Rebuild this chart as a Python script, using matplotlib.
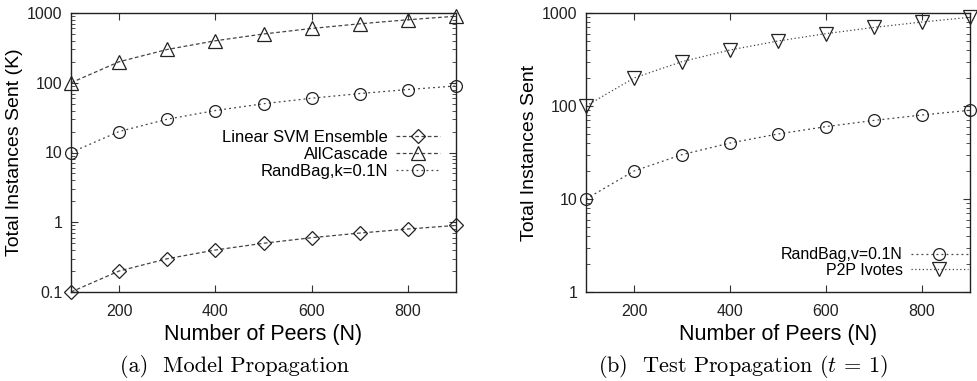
import numpy as np
import matplotlib
import matplotlib.pyplot as plt
from matplotlib.ticker import LogLocator, NullFormatter
matplotlib.use('Agg')

plt.rcParams['font.family'] = ['Liberation Sans', 'DejaVu Sans']
plt.rcParams['mathtext.fontset'] = 'cm'

peers = [100, 200, 300, 400, 500, 600, 700, 800, 900]

# (a) model propagation, in thousands
svm_ensemble = [0.1, 0.2, 0.3, 0.4, 0.5, 0.6, 0.7, 0.8, 0.9]
all_cascade = [100, 200, 300, 400, 500, 600, 700, 800, 900]
randbag_k = [10, 20, 30, 40, 50, 60, 70, 80, 90]

# (b) test propagation
randbag_v = [10, 20, 30, 40, 50, 60, 70, 80, 90]
p2p_ivotes = [100, 200, 300, 400, 500, 600, 700, 800, 900]

xticks = [200, 400, 600, 800]


def style_axes(ax, ylim, yticks):
    ax.set_yscale('log')
    ax.set_xlim(100, 900)
    ax.set_ylim(*ylim)
    ax.set_xticks(xticks)
    ax.set_yticks(yticks)
    ax.set_yticklabels([('%g' % v) for v in yticks])
    ax.yaxis.set_minor_locator(LogLocator(base=10, subs=np.arange(2, 10)))
    ax.yaxis.set_minor_formatter(NullFormatter())
    ax.tick_params(which='both', direction='in', top=True, right=True,
                   labelsize=11.5, color='#333333', labelcolor='#222222')
    ax.tick_params(axis='x', pad=9)
    ax.tick_params(axis='y', pad=6)
    ax.tick_params(which='major', length=5)
    ax.tick_params(which='minor', length=3)
    for s in ax.spines.values():
        s.set_linewidth(1.0)
        s.set_color('#222222')
    ax.set_xlabel('Number of Peers (N)', fontsize=15.5, labelpad=3)


fig = plt.figure(figsize=(9.77, 3.81), dpi=100)
ax1 = fig.add_axes([71 / 977, 1 - 292 / 381, 385 / 977, 279 / 381])
ax2 = fig.add_axes([586 / 977, 1 - 292 / 381, 384 / 977, 279 / 381])

mk = dict(markerfacecolor='none', markeredgecolor='#222222', markeredgewidth=0.9,
          color='#444444', linewidth=0.9, clip_on=False)

ax1.plot(peers, svm_ensemble, linestyle=(0, (3, 2)), marker='D', markersize=7.5,
         label='Linear SVM Ensemble', **mk)
ax1.plot(peers, all_cascade, linestyle=(0, (3, 2)), marker='^', markersize=9.5,
         label='AllCascade', **mk)
ax1.plot(peers, randbag_k, linestyle=(0, (1.5, 2.5)), marker='o', markersize=8.5,
         label='RandBag,k=0.1N', **mk)
style_axes(ax1, (0.1, 1000), [0.1, 1, 10, 100, 1000])
ax1.set_ylabel('Total Instances Sent (K)', fontsize=14, labelpad=3)
ax1.legend(loc='upper right', bbox_to_anchor=(0.958, 0.58), frameon=False, markerfirst=False,
           fontsize=12, handlelength=2.6, handletextpad=0.5, labelspacing=0.1,
           borderaxespad=0, borderpad=0)

ax2.plot(peers, randbag_v, linestyle=(0, (1.5, 2.5)), marker='o', markersize=8.5,
         label='RandBag,v=0.1N', **mk)
ax2.plot(peers, p2p_ivotes, linestyle=(0, (1, 2)), marker='v', markersize=9.5,
         label='P2P Ivotes', **mk)
style_axes(ax2, (1, 1000), [1, 10, 100, 1000])
ax2.set_ylabel('Total Instances Sent', fontsize=14, labelpad=3)
leg2 = ax2.legend(loc='lower right', bbox_to_anchor=(0.995, 0.05), frameon=False, markerfirst=False,
                  fontsize=11.5, handlelength=3.6, handletextpad=0.5, labelspacing=0.05,
                  borderaxespad=0, borderpad=0)
for t in leg2.get_texts():
    t.set_ha('left')

fig.text(234 / 977, 1 - 366 / 381, '(a)  Model Propagation', family='cmr10', fontsize=16,
         ha='center', va='center')
fig.text(743 / 977, 1 - 366 / 381, r'(b)  Test Propagation ($t$ = 1)', family='cmr10',
         fontsize=16, ha='center', va='center')

plt.savefig('out.png', dpi=100)
